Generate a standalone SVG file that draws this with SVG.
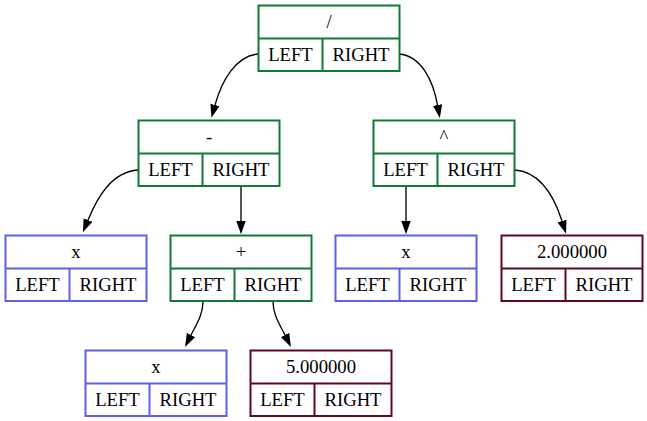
<svg xmlns="http://www.w3.org/2000/svg" width="647" height="421" viewBox="0 0 647 421" font-family="'Liberation Serif', 'Times New Roman', serif">
  <defs>
    <marker id="arrow" markerUnits="userSpaceOnUse" markerWidth="14" markerHeight="10" refX="0" refY="4.7" orient="auto">
      <path d="M0,0 L13.3,4.7 L0,9.4 Z" fill="#000"/>
    </marker>
    <!-- record node: header cell over LEFT | RIGHT cells -->
    <g id="rec">
      <rect x="0" y="0" width="141" height="65.5"/>
      <line x1="0" y1="33" x2="141" y2="33"/>
      <line x1="64" y1="33" x2="64" y2="65.5"/>
      <text font-family="'Liberation Serif', serif" x="32" y="55.3">LEFT</text>
      <text font-family="'Liberation Serif', serif" x="102.5" y="55.3">RIGHT</text>
    </g>
  </defs>
  <style>
    rect { fill: #fff; }
    .op { stroke: #117a34; stroke-width: 2; }
    .var { stroke: #5b62e6; stroke-width: 2; }
    .num { stroke: #5e0a1a; stroke-width: 2; }
    text { font-size: 18.67px; text-anchor: middle; fill: #000; stroke: none; }
    .edge { fill: none; stroke: #000; stroke-width: 1.33; marker-end: url(#arrow); }
  </style>
  <rect x="0" y="0" width="647" height="421" fill="#fff"/>

  <g id="connectors">
    <path class="edge" d="M258,54 C236,56 222,80 215,105"/>
    <path class="edge" d="M399,54 C421,56 433,80 437.5,105"/>
    <path class="edge" d="M138,170 C112,172 98,196 88,220"/>
    <path class="edge" d="M241,186 L241,221"/>
    <path class="edge" d="M203,301.5 C203,315 196,325 191,335"/>
    <path class="edge" d="M273,301.5 C273,315 280,325 285,335"/>
    <path class="edge" d="M406,186 L406,221"/>
    <path class="edge" d="M515,170 C540,172 554,196 562,221"/>
  </g>

  <g id="node-div" class="op" transform="translate(258.5,5.5)">
    <use href="#rec"/>
    <text x="70.5" y="22.5">/</text>
  </g>
  <g id="node-sub" class="op" transform="translate(138.5,120.5)">
    <use href="#rec"/>
    <text x="70.5" y="22.5">-</text>
  </g>
  <g id="node-pow" class="op" transform="translate(373.5,120.5)">
    <use href="#rec"/>
    <text x="70.5" y="22.5">^</text>
  </g>
  <g id="node-x1" class="var" transform="translate(5.5,235.5)">
    <use href="#rec"/>
    <text x="70.5" y="22.5">x</text>
  </g>
  <g id="node-add" class="op" transform="translate(170.5,235.5)">
    <use href="#rec"/>
    <text x="70.5" y="22.5">+</text>
  </g>
  <g id="node-x2" class="var" transform="translate(335.5,235.5)">
    <use href="#rec"/>
    <text x="70.5" y="22.5">x</text>
  </g>
  <g id="node-num2" class="num" transform="translate(501.5,235.5)">
    <use href="#rec"/>
    <text x="70.5" y="22.5">2.000000</text>
  </g>
  <g id="node-x3" class="var" transform="translate(85.5,350.5)">
    <use href="#rec"/>
    <text x="70.5" y="22.5">x</text>
  </g>
  <g id="node-num5" class="num" transform="translate(250.5,350.5)">
    <use href="#rec"/>
    <text x="70.5" y="22.5">5.000000</text>
  </g>
</svg>
